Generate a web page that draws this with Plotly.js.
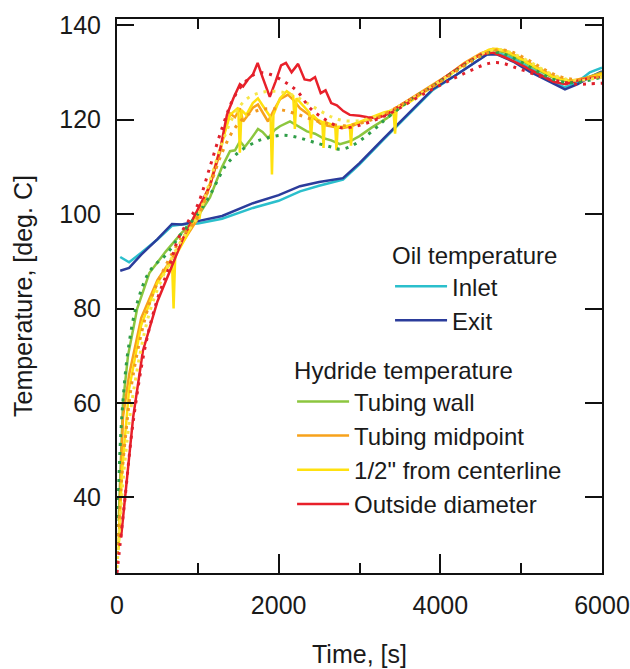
<!DOCTYPE html>
<html>
<head>
<meta charset="utf-8">
<script src="https://cdn.plot.ly/plotly-3.0.1.min.js"></script>
<style>html,body{margin:0;padding:0;background:#fff;}#chart{width:630px;height:669px;}</style>
</head>
<body>
<div id="chart"></div>
<script>
// ---- Oil temperature (measured) ----
const inletT = [40,150,300,500,680,800,1000,1300,1682,2000,2264,2500,2796,3000,3300,3600,3909,4200,4400,4577,4700,4900,5100,5300,5542,5700,5850,6000];
const inletY = [90.9,89.8,91.8,94.6,97.5,97.8,98.0,99.0,101.3,102.8,104.8,106.0,107.3,110.5,115.8,121.0,126.3,129.5,131.8,133.8,134.2,133.0,131.0,129.0,126.8,128.0,130.0,131.0];
const exitT = [40,150,300,500,680,800,1000,1300,1682,2000,2264,2500,2796,3000,3300,3600,3909,4200,4400,4577,4700,4900,5100,5300,5542,5700,5850,6000];
const exitY = [88.0,88.6,91.4,94.7,97.9,97.8,98.5,99.6,102.3,104.0,105.9,106.8,107.6,110.8,116.0,121.2,126.5,129.5,131.7,133.8,133.8,132.3,130.2,128.5,126.4,127.5,129.0,130.2];

// ---- Hydride temperature (measured, solid) ----
const wallT = [20,74,136,250,400,600,800,1000,1150,1300,1398,1460,1521,1580,1640,1744,1800,1870,1950,2016,2140,2250,2350,2450,2548,2650,2758,2882,3000,3150,3340,3500,3700,3900,4100,4300,4500,4650,4800,5000,5200,5400,5600,5800,6000];
const wallY = [35,60,70,80,87.5,92,96,99.5,103.5,110,113.3,113.5,115.4,114.2,115.5,118,117.4,116.1,117.8,118.6,119.6,118.5,117.5,117,116.1,115.6,114.8,115.4,116.5,118.3,120.3,122.5,125,127,129.5,131.8,133.8,134.8,134.2,132.6,130.6,128.8,128,128.8,130];

const midT = [20,74,150,300,500,700,850,1000,1150,1274,1340,1398,1460,1521,1560,1600,1680,1744,1800,1868,1940,2016,2115,2190,2264,2330,2400,2460,2511,2580,2650,2720,2796,2900,3000,3150,3340,3500,3700,3900,4100,4300,4500,4650,4800,5000,5200,5400,5600,5800,6000];
const midY = [30,57,66,78,86,91,95,99,106,113,118,121.3,120.5,122.4,119.6,120.5,122.5,123.2,121.5,119.6,122,124.3,125.3,124,122.4,121.5,120.7,120,119.2,118.8,118.5,118.3,118.2,118.6,119.3,120.3,121.3,123,125.2,127.2,129.5,132,134,135,134.6,133,131,129.2,128.2,128.8,129.8];

const halfT = [20,60,150,300,500,680,700,720,850,1000,1020,1040,1150,1274,1398,1500,1520,1540,1600,1680,1744,1820,1900,1917,1935,2016,2100,2180,2200,2220,2300,2380,2400,2420,2480,2540,2555,2570,2650,2700,2715,2730,2800,2880,2895,2910,3000,3150,3300,3420,3440,3460,3600,3800,4000,4200,4400,4600,4700,4850,5000,5200,5400,5600,5800,6000];
const halfY = [29,45,63,76.5,85.5,90,80,91,95,100.5,99,101.5,106.5,114,121,122.5,113,122,121,123.5,124.5,122.5,120.5,108.4,121,124.5,126,125,118,124.5,123,121.5,116,121,120,119.5,114,119.5,119,118.5,113.5,118.5,118.5,118.8,114.5,119,119.5,120.5,121.5,122,117,122.5,123.5,125.8,128,130.5,132.8,134.8,135,134.2,132.8,130.8,129,128.2,128.6,129.6];

const odT = [50,100,200,320,500,680,820,1000,1150,1280,1360,1440,1520,1560,1620,1680,1740,1800,1890,1960,2030,2090,2160,2240,2320,2390,2450,2520,2580,2650,2720,2800,2880,3000,3100,3220,3340,3500,3700,3900,4100,4300,4500,4650,4800,5000,5200,5400,5550,5700,5850,6000];
const odY = [31.5,40,57,71,81.5,89,95,101,106,114,121,124.5,127.5,127,128.5,129.5,132,129,124.8,128,131.5,132,130,131.8,128.5,128.3,129,125.6,126.2,123.5,123,121.8,121,120.8,120.5,120.3,121.1,123,125,127,129.5,131.8,133.8,134.2,133.2,131.6,129.8,128,127.5,128.3,128.8,129];

// ---- Hydride temperature (model, dotted) ----
const mWallT = [0,37,74,136,247,408,618,800,1000,1150,1300,1360,1521,1732,1855,2053,2264,2474,2672,2758,2900,3043,3200,3290,3500,3700,3900,4100,4300,4500,4650,4800,5000,5200,5400,5600,5800,6000];
const mWallY = [28,50,60.5,71,81,88,91.6,96,100,104,109,110.6,113.3,115.4,116.1,116.7,116.1,115,114.1,113.7,114.4,116,118.2,119.6,122.5,125,127,129.3,131.5,133.5,134.3,133.8,132.2,130.2,128.5,127.8,128.2,129];
const mMidT = [0,50,100,200,400,600,800,1000,1150,1300,1450,1600,1750,1900,2050,2200,2350,2500,2650,2800,3000,3200,3400,3600,3800,4000,4200,4400,4600,4750,4900,5100,5300,5500,5700,6000];
const mMidY = [26,42,52,66,81,89,95,99.5,106,113,118,120.8,122,122.3,122,121.3,120.4,119.6,119,118.7,119.2,120.3,122,124,126,128,130.3,132.5,134.3,134.8,134.2,132.5,130.5,129,128.5,129.2];
const mHalfT = [0,50,100,200,400,600,800,1000,1150,1300,1450,1600,1750,1900,2050,2200,2350,2500,2650,2800,3000,3200,3400,3600,3800,4000,4200,4400,4600,4750,4900,5100,5300,5500,5700,6000];
const mHalfY = [25,38,48,62,79,88,94.5,99.5,107,115,121,124.3,125.6,126,125.8,125,123.5,122,120.6,119.8,119.8,120.6,122,124,126,128.2,130.5,132.8,134.5,134.8,134,132.3,130.3,128.8,128.3,129];
const mOdT = [0,50,100,200,350,500,650,760,900,1000,1150,1300,1435,1560,1730,1890,2100,2230,2390,2550,2720,2800,3000,3220,3400,3600,3800,4000,4200,4400,4600,4750,4900,5100,5300,5500,5700,5850,6000];
const mOdY = [24,32,40,56,72,82,89,94.9,99,102,110,118.2,124.3,127.5,129.8,129.6,127.7,126,122.4,120.3,118.6,118.2,118.8,120.1,121.5,123.5,125.5,127.3,129,130.6,131.9,132,131.2,130,128.8,128,127.5,127.6,127.7];

const xTicks = [0,2000,4000,6000];
const yTicks = [40,60,80,100,120,140];

const FONT = 'Liberation Sans, Arial, sans-serif';
const C = {inlet:'#2bbfcc', exit:'#2b3c9b', wall:'#8cc63f', mid:'#f7a21b', half:'#ffe10f', od:'#e8202a',
           mWall:'#2f9e48', mMid:'#f29a1e', mHalf:'#f6e64a', mOd:'#e0202c'};

function solid(x,y,name,color,legend){
  return {x:x,y:y,name:name,type:'scatter',mode:'lines',line:{color:color,width:2.5},legend:legend};
}
function dotted(x,y,color){
  return {x:x,y:y,type:'scatter',mode:'lines',line:{color:color,width:3,dash:'3px,6px',shape:'spline'},showlegend:false,hoverinfo:'skip'};
}

const data = [
  solid(inletT,inletY,'Inlet',C.inlet,'legend'),
  solid(exitT,exitY,'Exit',C.exit,'legend'),
  solid(wallT,wallY,'Tubing wall',C.wall,'legend2'),
  solid(midT,midY,'Tubing midpoint',C.mid,'legend2'),
  solid(halfT,halfY,'1/2" from centerline',C.half,'legend2'),
  solid(odT,odY,'Outside diameter',C.od,'legend2'),
  dotted(mWallT,mWallY,C.mWall),
  dotted(mMidT,mMidY,C.mMid),
  dotted(mHalfT,mHalfY,C.mHalf),
  dotted(mOdT,mOdY,C.mOd)
];

const LF = {family:FONT,size:24,color:'#1a1a1a'};
const legendBase = {bgcolor:'rgba(0,0,0,0)',borderwidth:0,font:LF,
  xanchor:'left',yanchor:'top',tracegroupgap:0,itemwidth:52};

const layout = {
  width:630,height:669,
  margin:{l:117,r:28,t:19,b:96},
  paper_bgcolor:'#fff',plot_bgcolor:'#fff',
  font:{family:FONT,size:25,color:'#1a1a1a'},
  showlegend:true,
  legend:Object.assign({},legendBase,{x:0.563,y:0.614,title:{text:'Oil temperature',side:'top',font:LF}}),
  legend2:Object.assign({},legendBase,{x:0.361,y:0.406,title:{text:'Hydride temperature',side:'top',font:LF}}),
  xaxis:{range:[0,6000],tickvals:xTicks,ticktext:xTicks.map(String),ticks:'inside',ticklen:19,tickwidth:2,tickcolor:'#111',
    showline:true,linewidth:2,linecolor:'#111',mirror:'allticks',showgrid:false,zeroline:false,
    minor:{tickvals:[1000,3000,5000],ticks:'inside',ticklen:10,tickwidth:2,tickcolor:'#111',showgrid:false},
    ticklabelstandoff:9,tickfont:{family:FONT,size:25,color:'#1a1a1a'},
    title:{text:'Time, [s]',font:{family:FONT,size:25,color:'#1a1a1a'},standoff:27}},
  yaxis:{range:[24,141.3],tickvals:yTicks,ticktext:yTicks.map(String),ticks:'inside',ticklen:17,tickwidth:2,tickcolor:'#111',
    showline:true,linewidth:2,linecolor:'#111',mirror:'allticks',showgrid:false,zeroline:false,
    ticklabelstandoff:9,tickfont:{family:FONT,size:25,color:'#1a1a1a'},
    title:{text:'Temperature, [deg. C]',font:{family:FONT,size:25,color:'#1a1a1a'},standoff:20}}
};

Plotly.newPlot('chart',data,layout,{displayModeBar:false,staticPlot:true});
</script>
</body>
</html>
